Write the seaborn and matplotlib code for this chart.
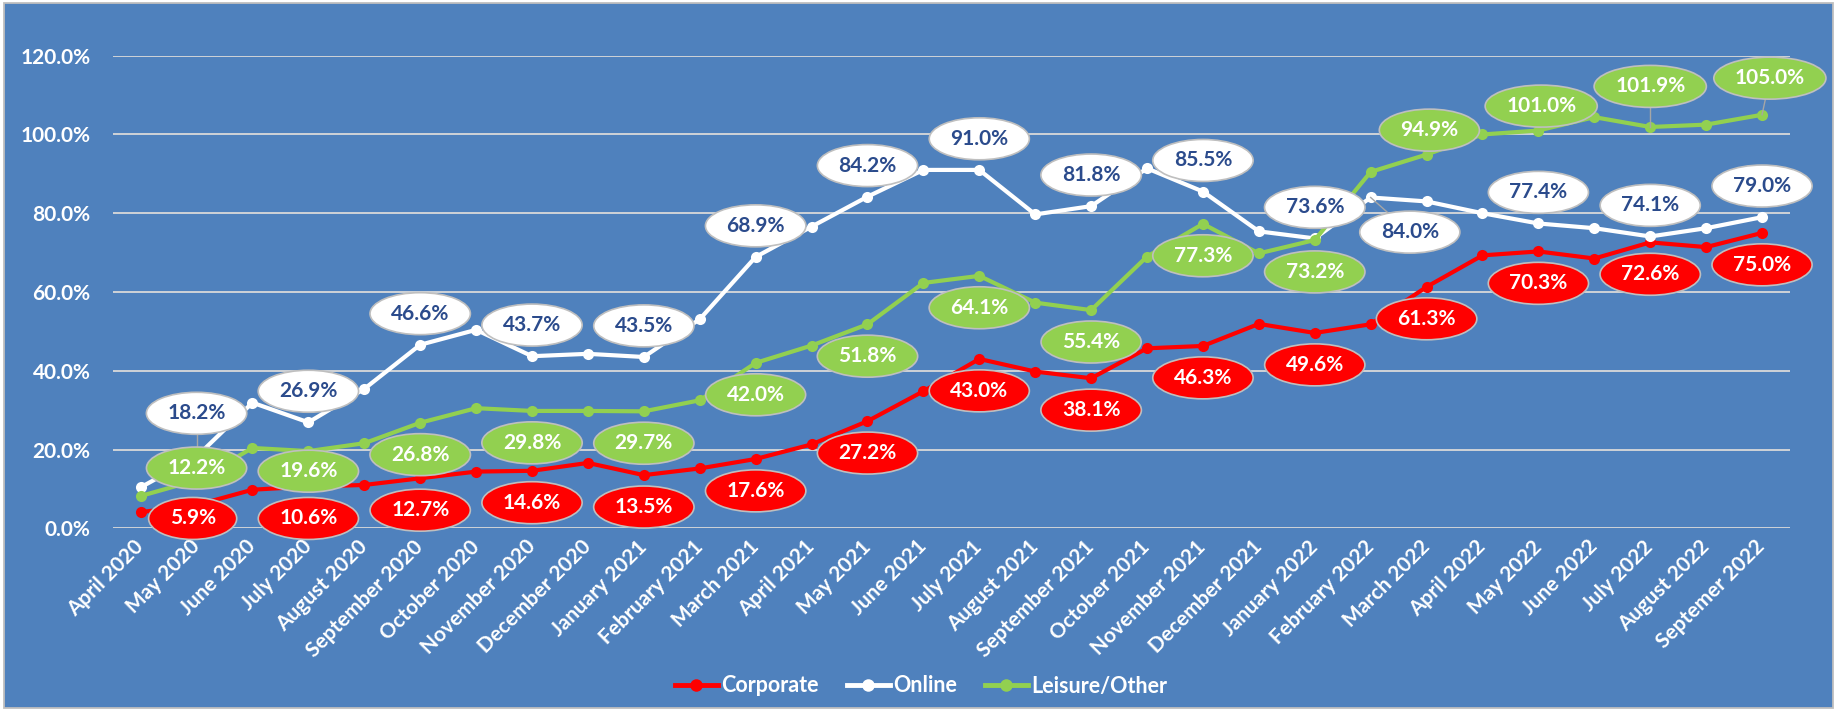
import numpy as np
import pandas as pd
import matplotlib
matplotlib.use("Agg")
import matplotlib.pyplot as plt
import seaborn as sns
from matplotlib.patches import Ellipse, Rectangle
from matplotlib.lines import Line2D

# ---------------- data ----------------
months = ["April 2020", "May 2020", "June 2020", "July 2020", "August 2020",
          "September 2020", "October 2020", "November 2020", "December 2020",
          "January 2021", "February 2021", "March 2021", "April 2021", "May 2021",
          "June 2021", "July 2021", "August 2021", "September 2021", "October 2021",
          "November 2021", "December 2021", "January 2022", "February 2022",
          "March 2022", "April 2022", "May 2022", "June 2022", "July 2022",
          "August 2022", "Septemer 2022"]

corporate = [4.1, 5.9, 9.8, 10.6, 11.0, 12.7, 14.4, 14.6, 16.6, 13.5,
             15.2, 17.6, 21.3, 27.2, 34.8, 43.0, 39.8, 38.1, 45.7, 46.3,
             51.9, 49.6, 51.8, 61.3, 69.3, 70.3, 68.5, 72.6, 71.4, 75.0]
online = [10.4, 18.2, 31.9, 26.9, 35.4, 46.6, 50.4, 43.7, 44.3, 43.5,
          53.1, 68.9, 76.6, 84.2, 91.0, 91.0, 79.7, 81.8, 91.4, 85.5,
          75.4, 73.6, 84.0, 83.0, 80.0, 77.4, 76.2, 74.1, 76.2, 79.0]
leisure = [8.2, 12.2, 20.4, 19.6, 21.6, 26.8, 30.5, 29.8, 29.8, 29.7,
           32.5, 42.0, 46.4, 51.8, 62.3, 64.1, 57.3, 55.4, 69.0, 77.3,
           69.8, 73.2, 90.5, 94.9, 100.0, 101.0, 104.4, 101.9, 102.5, 105.0]

series_names = ["Corporate", "Online", "Leisure/Other"]
y_ticks = [0, 20, 40, 60, 80, 100, 120]

corporate_labelled = list(range(1, 30, 2))
online_labelled = [1, 3, 5, 7, 9, 11, 13, 15, 17, 19, 21, 22, 25, 27, 29]
leisure_labelled = list(range(1, 30, 2))

# ---------------- style ----------------
BG = "#4F81BD"
RED = "#FF0000"
WHITE = "#FFFFFF"
GREEN = "#92D050"
NAVY = "#2B4B8C"
GRID = "#D9D9D9"
EDGE = "#BFBFBF"
LEADER = "#A6A6A6"
FS_LAB = 15
FS_TICK = 15
FS_LEG = 15.5

plt.rcParams["font.family"] = ["Lato", "DejaVu Sans"]
plt.rcParams["font.weight"] = "bold"

W, H = 1837, 711
fig = plt.figure(figsize=(W / 100, H / 100), dpi=100, facecolor="white")
fig.patches.append(Rectangle((4 / W, 3 / H), (1833 - 4) / W, (708 - 3) / H,
                             transform=fig.transFigure, facecolor=BG,
                             edgecolor=EDGE, lw=1.3, zorder=-10))

left, right, top, bottom = 112.7, 1790.0, 55.7, 528.3
ax = fig.add_axes([left / W, 1 - bottom / H, (right - left) / W, (bottom - top) / H])
ax.set_facecolor("none")

idx = np.arange(len(months))
df = pd.DataFrame({"idx": np.tile(idx, 3),
                   "value": corporate + online + leisure,
                   "series": np.repeat(series_names, len(months))})

colors = {"Corporate": RED, "Online": WHITE, "Leisure/Other": GREEN}
for name in series_names:
    sub = df[df["series"] == name]
    sns.lineplot(data=sub, x="idx", y="value", ax=ax, color=colors[name],
                 lw=3.0, marker="o", markersize=8, markeredgewidth=0,
                 markeredgecolor=colors[name], legend=False, sort=False, zorder=2)

ax.set_xlim(-0.5, len(months) - 0.5)
ax.set_ylim(0, 120)
ax.set_yticks(y_ticks)
ax.set_yticklabels([f"{v:.1f}%" for v in y_ticks], color="white",
                   fontsize=FS_TICK, fontweight="bold")
ax.set_xticks(idx)
ax.set_xticklabels(months, rotation=45, ha="right", va="center",
                   rotation_mode="anchor", color="white", fontsize=FS_TICK,
                   fontweight="bold")
ax.tick_params(axis="both", length=0)
ax.tick_params(axis="y", pad=16)
ax.tick_params(axis="x", pad=11)
ax.yaxis.grid(True, color=GRID, lw=1.3, zorder=0)
ax.xaxis.grid(False)
ax.set_axisbelow(True)
for s in ax.spines.values():
    s.set_visible(False)
ax.set_xlabel("")
ax.set_ylabel("")

# ---------------- data labels ----------------
label_specs = [
    (corporate, corporate_labelled, RED, WHITE, -8.1,
     {1: (-0.07, -3.4, False)}),
    (online, online_labelled, WHITE, NAVY, 7.9,
     {1: (0.0, 11.0, True), 22: (0.7, -8.8, True)}),
    (leisure, leisure_labelled, GREEN, WHITE, -8.1,
     {1: (0.0, 3.1, False), 3: (0.0, -5.1, False), 23: (0.05, 6.2, False),
      25: (0.05, 6.2, False), 27: (0.0, 10.3, True), 29: (0.14, 9.3, True)}),
]

texts = []
for vals, lab_idx, fill, tcolor, dy_default, overrides in label_specs:
    for i in lab_idx:
        dx, dy, leader = overrides.get(i, (0.0, dy_default, False))
        x, y = i + dx, vals[i] + dy
        t = ax.text(x, y, f"{vals[i]:.1f}%", ha="center", va="center",
                    color=tcolor, fontsize=FS_LAB, fontweight="bold",
                    zorder=6, clip_on=False)
        texts.append((t, x, y, fill))
        if leader:
            ax.plot([i, x], [vals[i], y], color=LEADER, lw=1.0, zorder=3)

fig.canvas.draw()
renderer = fig.canvas.get_renderer()
p0 = ax.transData.transform((0, 0))
p1 = ax.transData.transform((1, 1))
px_x, px_y = p1[0] - p0[0], p1[1] - p0[1]
for t, x, y, fill in texts:
    bb = t.get_window_extent(renderer)
    w_px = bb.width + 42
    h_px = 42
    e = Ellipse((x, y), w_px / px_x, h_px / px_y, facecolor=fill,
                edgecolor=EDGE, lw=1.2, zorder=5, clip_on=False)
    ax.add_patch(e)

# ---------------- legend ----------------
handles = [Line2D([0], [0], color=colors[n], lw=3.5, marker="o", markersize=9,
                  markeredgewidth=0) for n in series_names]
fig.legend(handles, series_names, loc="center", bbox_to_anchor=(921 / W, 1 - 686 / H),
           ncol=3, frameon=False, labelcolor="white",
           handlelength=2.0, handletextpad=0.15, columnspacing=1.3,
           prop={"weight": "bold", "size": FS_LEG})

fig.savefig("out.png", dpi=100, facecolor=fig.get_facecolor())
